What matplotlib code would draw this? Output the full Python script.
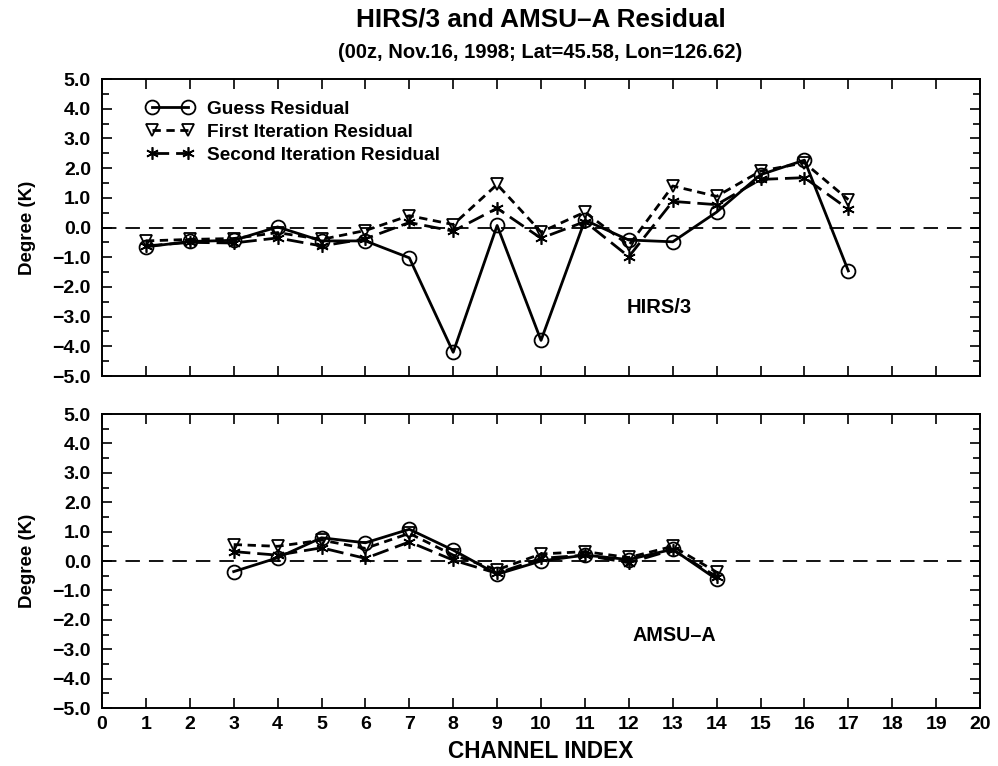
import matplotlib
matplotlib.use("Agg")
import matplotlib.pyplot as plt
from matplotlib.ticker import MultipleLocator

plt.rcParams['font.family'] = ['Liberation Sans', 'DejaVu Sans']
plt.rcParams['font.weight'] = 'bold'

# ---- data ----
hirs_channels = [1, 2, 3, 4, 5, 6, 7, 8, 9, 10, 11, 12, 13, 14, 15, 16, 17]
hirs_guess = [-0.65, -0.47, -0.43, 0.02, -0.45, -0.45, -1.02, -4.2, 0.07, -3.8,
              0.25, -0.42, -0.48, 0.52, 1.78, 2.27, -1.46]
hirs_first = [-0.45, -0.4, -0.37, -0.17, -0.4, -0.1, 0.4, 0.1, 1.45, -0.15,
              0.52, -0.6, 1.4, 1.05, 1.9, 2.18, 0.94]
hirs_second = [-0.62, -0.5, -0.52, -0.35, -0.62, -0.38, 0.17, -0.12, 0.65, -0.36,
               0.2, -0.98, 0.88, 0.77, 1.62, 1.68, 0.62]

amsu_channels = [3, 4, 5, 6, 7, 8, 9, 10, 11, 12, 13, 14]
amsu_guess = [-0.36, 0.11, 0.79, 0.62, 1.08, 0.37, -0.45, 0.0, 0.2, 0.05, 0.4, -0.62]
amsu_first = [0.56, 0.5, 0.71, 0.43, 0.94, 0.2, -0.3, 0.24, 0.32, 0.12, 0.5, -0.38]
amsu_second = [0.32, 0.2, 0.45, 0.09, 0.65, 0.03, -0.42, 0.09, 0.2, -0.06, 0.38, -0.53]

series_labels = ["Guess Residual", "First Iteration Residual", "Second Iteration Residual"]
x_ticks = list(range(0, 21))
y_ticks = [5.0, 4.0, 3.0, 2.0, 1.0, 0.0, -1.0, -2.0, -3.0, -4.0, -5.0]

fig = plt.figure(figsize=(9.98, 7.66), dpi=100)
ax1 = fig.add_axes([0.1022, 0.5091, 0.8798, 0.3877])
ax2 = fig.add_axes([0.1022, 0.0757, 0.8798, 0.3838])

asterisk = (6, 2, 0)

def draw(ax, x, g, f, s):
    ax.axhline(0, color='black', lw=1.3, dashes=(8, 5), zorder=1)
    l1, = ax.plot(x, g, color='black', lw=2.0, marker='o', ms=10, mfc='none',
                  mec='black', mew=1.3, zorder=2)
    l2, = ax.plot(x, f, color='black', lw=2.0, dashes=(3, 2), marker='v', ms=9,
                  mfc='none', mec='black', mew=1.3, zorder=3)
    l3, = ax.plot(x, s, color='black', lw=2.0, dashes=(6, 2.5), marker=asterisk,
                  ms=9, mfc='none', mec='black', mew=1.2, zorder=3)
    ax.set_xlim(0, 20)
    ax.set_ylim(-5, 5)
    ax.set_xticks(x_ticks)
    ax.set_yticks(y_ticks)
    ax.yaxis.set_minor_locator(MultipleLocator(0.5))
    ax.set_yticklabels([("%.1f" % v).replace('-', '\u2212') for v in y_ticks],
                       fontsize=14, fontweight='bold')
    ax.tick_params(which='both', direction='in', width=1.2, top=True, right=True)
    ax.tick_params(which='major', length=7, pad=8)
    ax.tick_params(which='minor', length=5)
    for sp in ax.spines.values():
        sp.set_linewidth(1.4)
    ax.set_ylabel("Degree (K)", fontsize=13.5, fontweight='bold')
    ax.yaxis.set_label_coords(-0.075, 0.5)
    return l1, l2, l3

h = draw(ax1, hirs_channels, hirs_guess, hirs_first, hirs_second)
draw(ax2, amsu_channels, amsu_guess, amsu_first, amsu_second)

ax1.set_xticklabels([])
ax2.set_xticklabels([str(v) for v in x_ticks], fontsize=14, fontweight='bold')
ax2.tick_params(axis='x', which='major', pad=6)
ax2.set_xlabel("CHANNEL INDEX", fontsize=16.3, fontweight='bold')
ax2.xaxis.set_label_coords(0.5, -0.108)

ax1.legend(h, series_labels, loc='upper left', bbox_to_anchor=(0.051, 0.927),
           frameon=False, numpoints=2, handlelength=2.45, handletextpad=0.7,
           labelspacing=0.3, borderaxespad=0.0, borderpad=0.0,
           prop={'size': 13.7, 'weight': 'bold'})

ax1.text(12.7, -2.68, "HIRS/3", fontsize=14.5, fontweight='bold', ha='center', va='center')
ax2.text(13.03, -2.55, "AMSU\u2013A", fontsize=14.2, fontweight='bold', ha='center', va='center')

fig.text(0.542, 0.974, "HIRS/3 and AMSU\u2013A Residual", fontsize=18.8,
         fontweight='bold', ha='center', va='center')
fig.text(0.541, 0.932, "(00z, Nov.16, 1998; Lat=45.58, Lon=126.62)", fontsize=14.5,
         fontweight='bold', ha='center', va='center')

fig.savefig("out.png", dpi=100)
